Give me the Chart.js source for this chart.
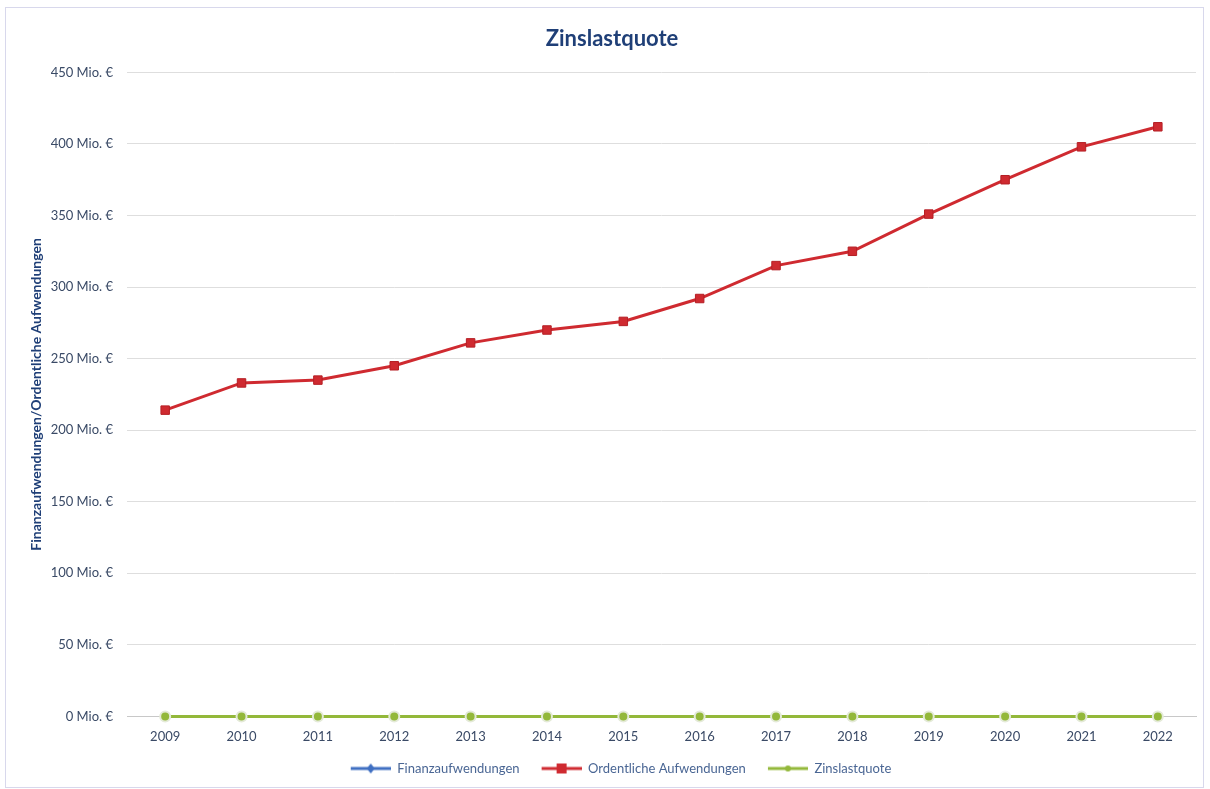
<!DOCTYPE html>
<html>
<head>
<meta charset="utf-8">
<script src="https://cdn.jsdelivr.net/npm/chart.js@4/dist/chart.umd.min.js"></script>
<style>
  body { margin: 0; background: #fff; }
  #frame { position: absolute; left: 5px; top: 7px; width: 1199px; height: 781px; border: 1px solid #d8d8ec; box-sizing: border-box; }
  #wrap { position: absolute; left: 0; top: 0; width: 1210px; height: 789px; }
</style>
</head>
<body>
<div id="frame"></div>
<div id="wrap"><canvas id="myChart" width="1210" height="789"></canvas></div>
<script>
// Werte in Mio. €
var jahre = ['2009','2010','2011','2012','2013','2014','2015','2016','2017','2018','2019','2020','2021','2022'];
var finanzaufwendungen = [0.3, 0.3, 0.3, 0.3, 0.2, 0.2, 0.2, 0.2, 0.2, 0.2, 0.2, 0.1, 0.1, 0.1];
var ordentlicheAufwendungen = [214, 233, 235, 245, 261, 270, 276, 292, 315, 325, 351, 375, 398, 412];
var zinslastquote = [0.006, 0.005, 0.004, 0.004, 0.003, 0.003, 0.003, 0.002, 0.002, 0.002, 0.002, 0.001, 0.001, 0.001];
var yTicks = [0, 50, 100, 150, 200, 250, 300, 350, 400, 450];

var blau = '#3f6fc2', rot = '#cf2a30', gruen = '#93b83a';

// kleine Legendensymbole: Linie mit Marker in der Mitte (links etwas Luft als Abstand)
function legendIcon(color, shape) {
    var c = document.createElement('canvas');
    c.width = 58; c.height = 12;
    var g = c.getContext('2d');
    g.strokeStyle = color; g.lineWidth = 3;
    g.beginPath(); g.moveTo(18, 6); g.lineTo(58, 6); g.stroke();
    g.fillStyle = color;
    if (shape === 'rect') { g.fillRect(33, 1, 10, 10); }
    else if (shape === 'circle') { g.beginPath(); g.arc(38, 6, 3, 0, Math.PI * 2); g.fill(); }
    else { g.beginPath(); g.moveTo(38, 1); g.lineTo(42, 6); g.lineTo(38, 11); g.lineTo(34, 6); g.closePath(); g.fill(); }
    return c;
}

const ctx = document.getElementById('myChart').getContext('2d');
const myChart = new Chart(ctx, {
    type: 'line',
    data: {
        labels: jahre,
        datasets: [{
            label: 'Finanzaufwendungen',
            data: finanzaufwendungen,
            borderColor: blau,
            backgroundColor: blau,
            borderWidth: 2,
            pointStyle: 'rectRot',
            pointRadius: 3,
            order: 3,
            legendIcon: legendIcon(blau, 'diamond')
        }, {
            label: 'Ordentliche Aufwendungen',
            data: ordentlicheAufwendungen,
            borderColor: rot,
            backgroundColor: rot,
            borderWidth: 3,
            pointStyle: 'rect',
            pointRadius: 6,
            pointBorderColor: '#b51f25',
            pointBorderWidth: 1,
            order: 2,
            legendIcon: legendIcon(rot, 'rect')
        }, {
            label: 'Zinslastquote',
            data: zinslastquote,
            borderColor: gruen,
            backgroundColor: gruen,
            borderWidth: 3,
            pointStyle: 'circle',
            pointRadius: 5,
            pointBorderColor: '#e4ead8',
            pointBorderWidth: 2,
            order: 1,
            legendIcon: legendIcon(gruen, 'circle')
        }]
    },
    options: {
        responsive: false,
        animation: false,
        layout: { padding: { left: 28, right: 14, top: 24, bottom: 4 } },
        clip: false,
        plugins: {
            title: {
                display: true,
                text: 'Zinslastquote',
                color: '#1f3f77',
                font: { family: 'Lato', size: 22, weight: 'bold' },
                padding: { top: 2, bottom: 20 }
            },
            legend: {
                position: 'bottom',
                labels: {
                    color: '#4a6694',
                    font: { family: 'Lato', size: 13 },
                    usePointStyle: true,
                    pointStyleWidth: 58,
                    boxWidth: 58,
                    boxHeight: 12,
                    padding: 4,
                    generateLabels: function (chart) {
                        return chart.data.datasets.map(function (ds, i) {
                            return {
                                text: ds.label,
                                pointStyle: ds.legendIcon,
                                fillStyle: ds.borderColor,
                                strokeStyle: ds.borderColor,
                                fontColor: '#4a6694',
                                lineWidth: 0,
                                hidden: false,
                                datasetIndex: i
                            };
                        });
                    }
                }
            },
            tooltip: { enabled: false }
        },
        scales: {
            x: {
                offset: true,
                grid: { display: false, drawTicks: false },
                border: { display: true, color: '#c8c8c8', width: 1 },
                ticks: { color: '#3a4a66', font: { family: 'Lato', size: 13 }, padding: 13 }
            },
            y: {
                min: 0,
                max: 450,
                afterBuildTicks: function (scale) {
                    scale.ticks = yTicks.map(function (v) { return { value: v }; });
                },
                afterFit: function (scale) { scale.width = 99; },
                grid: { color: '#dedede', drawTicks: false },
                border: { display: false },
                ticks: {
                    color: '#3a4a66',
                    font: { family: 'Lato', size: 13 },
                    padding: 14,
                    callback: function (v) { return v + ' Mio. €'; }
                },
                title: {
                    display: true,
                    text: 'Finanzaufwendungen/Ordentliche Aufwendungen',
                    color: '#1f3f77',
                    font: { family: 'Lato', size: 14, weight: 'bold' },
                    padding: 0
                }
            }
        }
    }
});
</script>
</body>
</html>
